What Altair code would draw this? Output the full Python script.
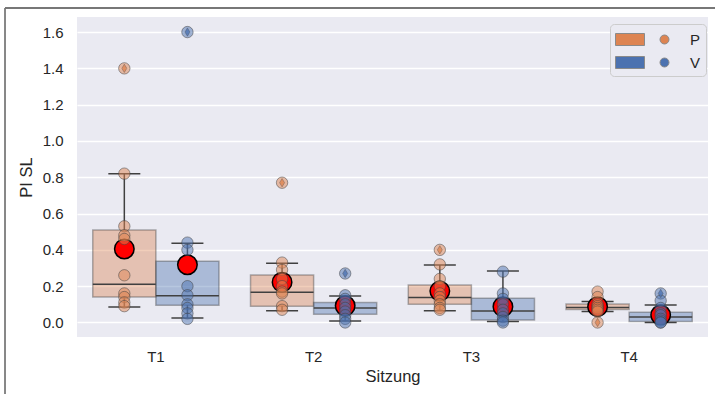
import altair as alt
import pandas as pd

sessions = ["T1", "T2", "T3", "T4"]
groups = ["P", "V"]
palette = ["#DD8452", "#4C72B0"]

points_P = {
    "T1": [1.40, 0.82, 0.53, 0.48, 0.46, 0.26, 0.16, 0.14, 0.11, 0.09],
    "T2": [0.77, 0.33, 0.29, 0.24, 0.20, 0.17, 0.16, 0.09, 0.07],
    "T3": [0.40, 0.32, 0.24, 0.20, 0.16, 0.14, 0.12, 0.10, 0.08, 0.07],
    "T4": [0.17, 0.14, 0.10, 0.09, 0.08, 0.07, 0.06, 0.00],
}
points_V = {
    "T1": [1.60, 0.44, 0.40, 0.20, 0.15, 0.10, 0.08, 0.05, 0.02],
    "T2": [0.27, 0.15, 0.13, 0.10, 0.08, 0.06, 0.04, 0.02, 0.00],
    "T3": [0.28, 0.16, 0.13, 0.10, 0.07, 0.05, 0.03, 0.01, 0.00],
    "T4": [0.16, 0.12, 0.08, 0.05, 0.04, 0.02, 0.01, 0.00, 0.00],
}

# box statistics per session / group (as drawn)
box_session = ["T1", "T1", "T2", "T2", "T3", "T3", "T4", "T4"]
box_group = ["P", "V", "P", "V", "P", "V", "P", "V"]
q1 = [0.140, 0.095, 0.090, 0.045, 0.100, 0.014, 0.072, 0.005]
median = [0.210, 0.147, 0.166, 0.080, 0.137, 0.063, 0.083, 0.030]
q3 = [0.510, 0.338, 0.261, 0.110, 0.206, 0.133, 0.102, 0.056]
whisk_lo = [0.085, 0.025, 0.065, 0.008, 0.065, 0.006, 0.060, 0.000]
whisk_hi = [0.820, 0.436, 0.326, 0.146, 0.316, 0.283, 0.115, 0.096]
means = [0.405, 0.318, 0.222, 0.092, 0.173, 0.087, 0.087, 0.041]

# outliers (flier markers)
out_session = ["T1", "T1", "T2", "T2", "T3", "T4", "T4"]
out_group = ["P", "V", "P", "V", "P", "P", "V"]
out_value = [1.40, 1.60, 0.77, 0.27, 0.40, 0.00, 0.16]

rows = []
for g, d in (("P", points_P), ("V", points_V)):
    for s in sessions:
        for v in d[s]:
            rows.append({"session": s, "group": g, "value": v})
pts = pd.DataFrame(rows)
box = pd.DataFrame({"session": box_session, "group": box_group, "q1": q1,
                    "median": median, "q3": q3, "lo": whisk_lo, "hi": whisk_hi,
                    "mean": means})
outl = pd.DataFrame({"session": out_session, "group": out_group, "value": out_value})

FONT = "Liberation Sans"
ydom = [-0.08, 1.683]

X = alt.X("session:N", scale=alt.Scale(domain=sessions, paddingInner=0, paddingOuter=0),
          axis=alt.Axis(title="Sitzung", labelAngle=0, grid=False))
XO = alt.XOffset("group:N", scale=alt.Scale(domain=groups, paddingOuter=0.25, paddingInner=0))
colorLegend = alt.Legend(
    title=None, orient="none", legendX=533, legendY=7,
    symbolType="M-1,-0.6H1.9V0.6H-1Z M3.45,0A0.45,0.45 0 1,0 4.35,0A0.45,0.45 0 1,0 3.45,0Z",
    symbolSize=400, symbolOpacity=1, symbolStrokeColor="#8a8a8a",
    symbolStrokeWidth=1, labelOffset=54, labelFontSize=15, labelFont=FONT, labelColor="#262626",
    rowPadding=4, padding=5, fillColor="#EAEAF2", strokeColor="#cccccc", cornerRadius=4,
)
COLOR = alt.Color("group:N", scale=alt.Scale(domain=groups, range=palette), legend=colorLegend)
COLOR_NL = alt.Color("group:N", scale=alt.Scale(domain=groups, range=palette), legend=None)
Y = lambda f: alt.Y(f, type="quantitative", scale=alt.Scale(domain=ydom, nice=False, zero=False),
                    axis=alt.Axis(title="PI SL", values=[0, 0.2, 0.4, 0.6, 0.8, 1.0, 1.2, 1.4, 1.6],
                                  format=".1f"))

LINE = "#404040"
boxes = alt.Chart(box).mark_bar(fillOpacity=0.4, stroke="#3f3f3f", strokeOpacity=0.4,
                                strokeWidth=1.5).encode(
    x=X, xOffset=XO, y=Y("q1"), y2="q3", color=COLOR)
whisk_up = alt.Chart(box).mark_rule(color=LINE, strokeWidth=1.5).encode(
    x=X, xOffset=XO, y=Y("q3"), y2="hi")
whisk_dn = alt.Chart(box).mark_rule(color=LINE, strokeWidth=1.5).encode(
    x=X, xOffset=XO, y=Y("lo"), y2="q1")
cap_hi = alt.Chart(box).mark_tick(color=LINE, size=32, thickness=1.5, opacity=1).encode(
    x=X, xOffset=XO, y=Y("hi"))
cap_lo = alt.Chart(box).mark_tick(color=LINE, size=32, thickness=1.5, opacity=1).encode(
    x=X, xOffset=XO, y=Y("lo"))
med = alt.Chart(box).mark_tick(color=LINE, size=63, thickness=1.5, opacity=1).encode(
    x=X, xOffset=XO, y=Y("median"))
mean_pts = alt.Chart(box).mark_point(filled=True, shape="circle", size=380, fill="red",
                                     stroke="black", strokeWidth=1.5, opacity=1).encode(
    x=X, xOffset=XO, y=Y("mean"))
strip = alt.Chart(pts).mark_point(filled=True, shape="circle", size=130, fillOpacity=0.5,
                                  stroke="#3f3f3f", strokeOpacity=0.5, strokeWidth=1).encode(
    x=X, xOffset=XO, y=Y("value"), color=COLOR_NL)
fliers = alt.Chart(outl).mark_point(filled=True, shape="M0,-1L0.6,0L0,1L-0.6,0Z", size=70,
                                    fillOpacity=0.8, stroke="#3f3f3f", strokeOpacity=0.4,
                                    strokeWidth=0.8).encode(
    x=X, xOffset=XO, y=Y("value"), color=COLOR_NL)

frame_df = pd.DataFrame({"k": [0]})
frame_left = alt.Chart(frame_df).mark_rule(color="#111111", strokeWidth=1).encode(
    x=alt.value(-72), y=alt.value(-9), y2=alt.value(377))
frame_top = alt.Chart(frame_df).mark_rule(color="#777777", strokeWidth=2).encode(
    x=alt.value(-72), x2=alt.value(638), y=alt.value(-9))

chart = alt.layer(boxes, whisk_up, whisk_dn, cap_hi, cap_lo, med, mean_pts, strip, fliers,
                  frame_left, frame_top).properties(
    width=631, height=320,
    autosize=alt.AutoSizeParams(type="none"),
    padding={"left": 77, "top": 17, "right": 7, "bottom": 57},
    background="white",
).configure_view(fill="#EAEAF2", strokeWidth=0).configure_axis(
    domain=False, ticks=False, gridColor="white", gridWidth=1.5,
    labelFont=FONT, titleFont=FONT, labelColor="#262626", titleColor="#262626",
    labelFontSize=15, titleFontSize=16.5, titleFontWeight="normal",
).configure_axisY(labelPadding=14, titlePadding=8).configure_axisX(
    labelPadding=12, titlePadding=4)

chart.save("out.html", embed_options={"renderer": "svg", "actions": False})
